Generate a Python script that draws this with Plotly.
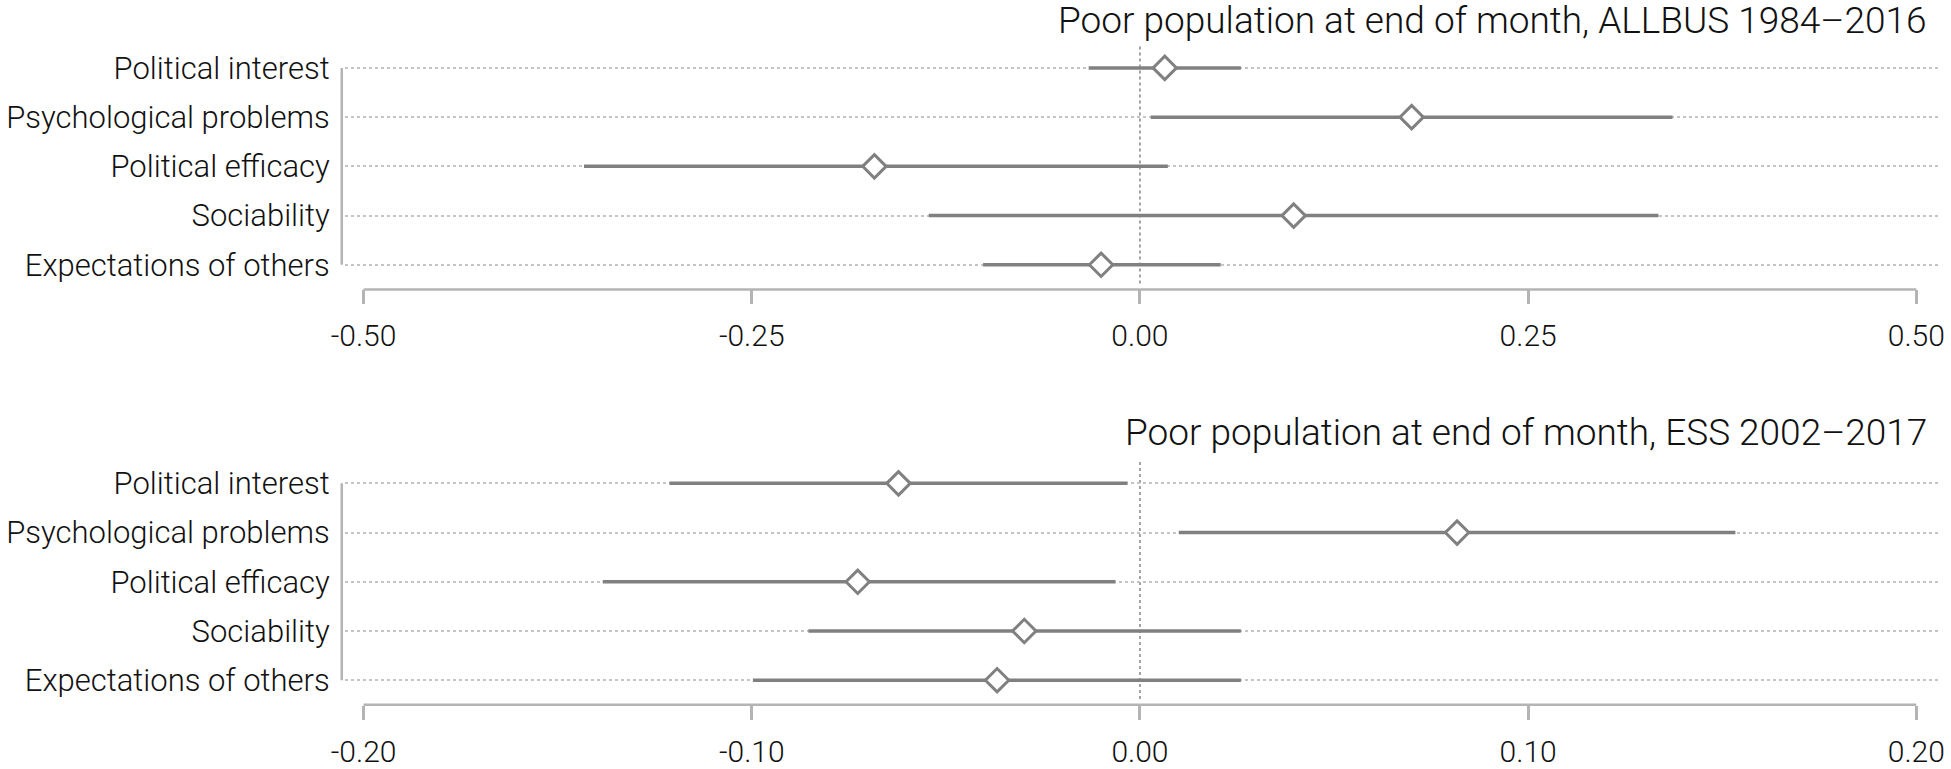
import plotly.graph_objects as go

categories = ["Political interest", "Psychological problems", "Political efficacy",
              "Sociability", "Expectations of others"]

# ALLBUS 1984-2016
est_allbus = [0.016, 0.175, -0.171, 0.099, -0.025]
lo_allbus = [-0.033, 0.007, -0.358, -0.136, -0.101]
hi_allbus = [0.065, 0.343, 0.018, 0.334, 0.052]

# ESS 2002-2017
est_ess = [-0.0622, 0.0817, -0.0727, -0.0298, -0.0368]
lo_ess = [-0.1212, 0.010, -0.1384, -0.0854, -0.0997]
hi_ess = [-0.0032, 0.1534, -0.0063, 0.026, 0.026]

ticks_allbus = [-0.50, -0.25, 0.00, 0.25, 0.50]
ticks_ess = [-0.20, -0.10, 0.00, 0.10, 0.20]

titles = ["Poor population at end of month, ALLBUS 1984\u20132016",
          "Poor population at end of month, ESS 2002\u20132017"]

W, H = 1951, 769
FONT = "Roboto, Liberation Sans, Helvetica, Arial, sans-serif"
WEIGHT = 300
TXT = "#111111"
LINE = "#808080"
AXC = "#b4b4b4"
GRID = "#c4c4c4"

def py(px):
    return 1 - px / H

def pxx(px):
    return px / W

fig = go.Figure()

panels = [
    dict(est=est_allbus, lo=lo_allbus, hi=hi_allbus, ticks=ticks_allbus,
         top=45, bottom=294, xr=[-0.5121, 0.5153], title_y=21),
    dict(est=est_ess, lo=lo_ess, hi=hi_ess, ticks=ticks_ess,
         top=467, bottom=716, xr=[-0.20485, 0.20612], title_y=439),
]

yidx = list(range(len(categories)))
for i, p in enumerate(panels):
    xa = "x" if i == 0 else "x2"
    ya = "y" if i == 0 else "y2"
    plus = [h - e for h, e in zip(p["hi"], p["est"])]
    minus = [e - l for e, l in zip(p["est"], p["lo"])]
    fig.add_trace(go.Scatter(
        x=p["est"], y=yidx, mode="markers", xaxis=xa, yaxis=ya,
        error_x=dict(type="data", array=plus, arrayminus=minus, symmetric=False,
                     color=LINE, thickness=3.5, width=0),
        marker=dict(symbol="diamond", size=18, color="white",
                    line=dict(color=LINE, width=3)),
        showlegend=False, hoverinfo="skip", cliponaxis=False))

    dom_y = [py(p["bottom"]), py(p["top"])]
    axkey = "" if i == 0 else "2"
    fig.update_layout(**{
        f"xaxis{axkey}": dict(
            domain=[pxx(334), pxx(1945)], range=p["xr"], anchor=ya,
            tickvals=p["ticks"], ticktext=[("%.2f" % t) for t in p["ticks"]],
            ticks="outside", ticklen=14, tickwidth=2.5, tickcolor=AXC,
            showline=False, showgrid=False, zeroline=False,
            tickfont=dict(family=FONT, size=30, color=TXT, weight=WEIGHT),
            ticklabelstandoff=6),
        f"yaxis{axkey}": dict(
            domain=dom_y, range=[4.5, -0.48], anchor=xa,
            tickvals=yidx, ticktext=categories, ticks="",
            showgrid=True, gridcolor=GRID, griddash="dot", gridwidth=1.5,
            showline=False, zeroline=False,
            tickfont=dict(family=FONT, size=31, color=TXT, weight=WEIGHT),
            ticklabelstandoff=14),
    })
    # x axis line spanning the tick range
    fig.add_shape(type="line", xref=xa, yref="paper",
                  x0=p["ticks"][0], x1=p["ticks"][-1], y0=py(p["bottom"]), y1=py(p["bottom"]),
                  line=dict(color=AXC, width=2.5))
    # y axis line spanning the categories
    fig.add_shape(type="line", xref="paper", yref=ya,
                  x0=pxx(331), x1=pxx(331), y0=0, y1=len(categories) - 1,
                  line=dict(color=AXC, width=2.5))
    # dotted zero reference line
    fig.add_shape(type="line", xref=xa, yref="paper",
                  x0=0, x1=0, y0=py(p["bottom"] - 6), y1=py(p["top"]),
                  line=dict(color="#9a9a9a", width=1.8, dash="dot"), layer="below")
    fig.add_annotation(text=titles[i], xref="paper", yref="paper",
                       x=pxx(1934), y=py(p["title_y"]), xanchor="right", yanchor="middle",
                       showarrow=False,
                       font=dict(family=FONT, size=37, color=TXT, weight=WEIGHT))

fig.update_layout(width=W, height=H, autosize=False,
                  margin=dict(l=0, r=0, t=0, b=0),
                  paper_bgcolor="white", plot_bgcolor="white")

fig.write_html("out.html", config={"displayModeBar": False},
               post_script="document.body.style.margin='0';"
                           "document.body.style.overflow='hidden';"
                           "document.documentElement.style.overflow='hidden';")
